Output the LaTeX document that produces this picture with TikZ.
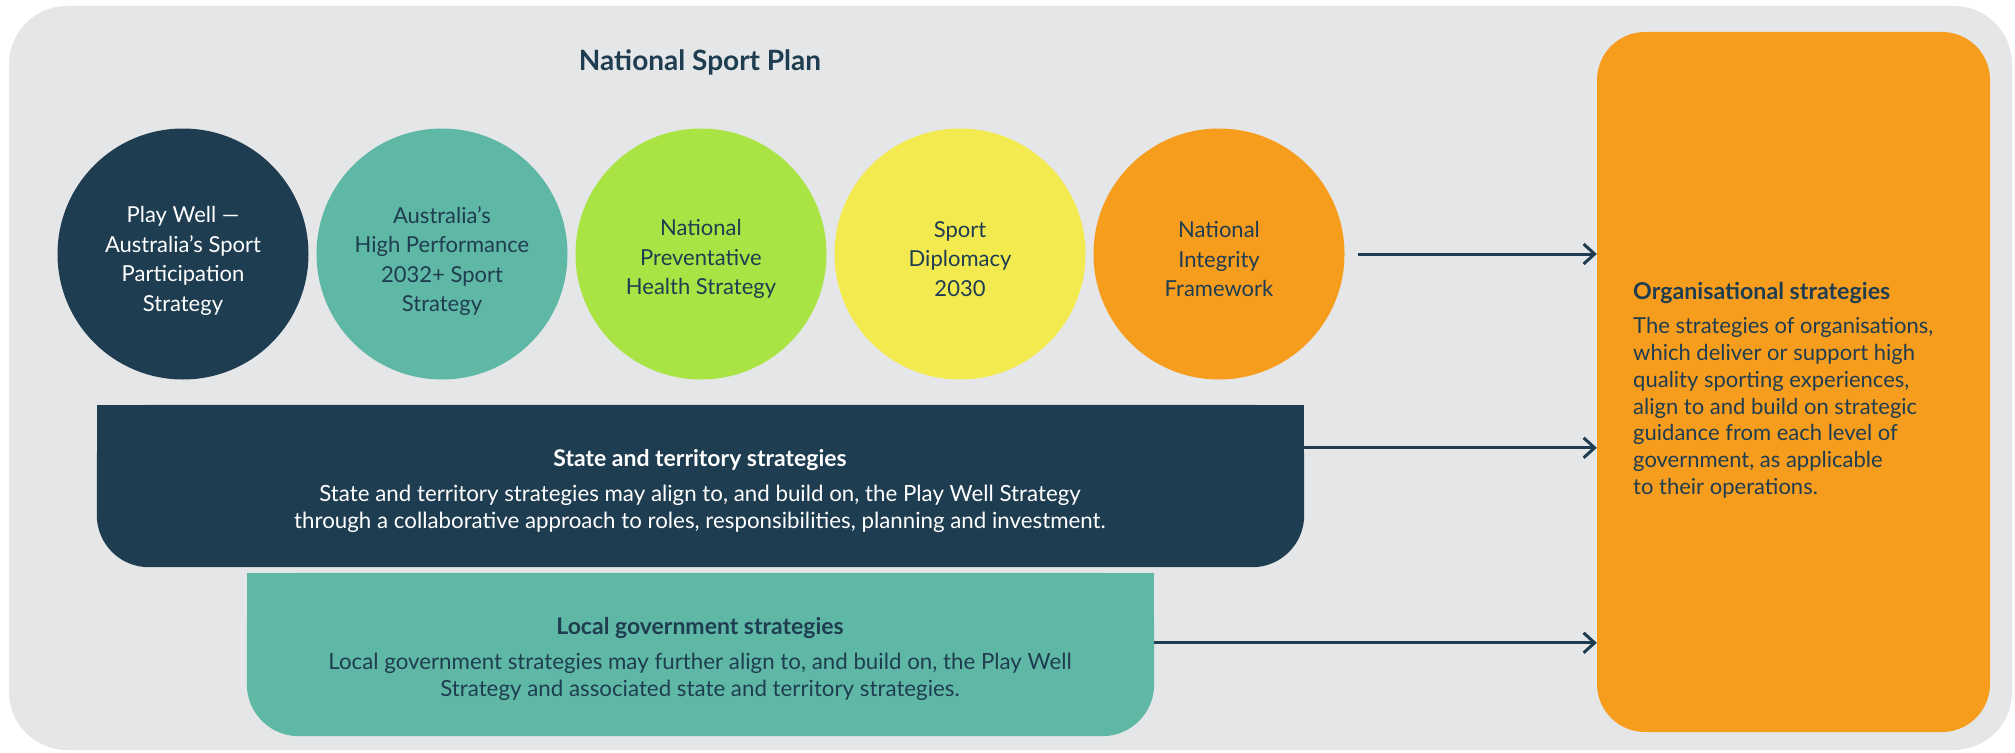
\documentclass[tikz,border=0pt]{standalone}
\usepackage{fontspec}
\setmainfont{Lato}
\usetikzlibrary{arrows.meta}
\definecolor{bggray}{HTML}{E5E6E8}
\definecolor{navy}{HTML}{1F3D50}
\definecolor{teal}{HTML}{5FB8A5}
\definecolor{lime}{HTML}{A9E444}
\definecolor{yel}{HTML}{F3EA50}
\definecolor{orng}{HTML}{F79D1E}
\tikzset{
  circ/.style={circle, minimum size=251pt, inner sep=0pt},
  ctext/.style={align=center, text=navy, font=\fontsize{22}{29.6}\selectfont},
  arr/.style={draw=navy, line width=3pt, -{Straight Barb[length=11pt,width=20pt]}},
  boxtitle/.style={font=\fontsize{23}{27}\selectfont\bfseries},
  boxbody/.style={align=center, font=\fontsize{22.3}{27}\selectfont},
}
\begin{document}
\begin{tikzpicture}[x=1pt, y=-1pt]
\useasboundingbox (0,0) rectangle (2015,752);
\fill[bggray, rounded corners=58pt] (9,6) rectangle (2012,750);

% title
\node[font=\fontsize{28}{32}\selectfont\bfseries, text=navy] (title) at (700,62) {National Sport Plan};

% circles
\node[circ, fill=navy] (c1) at (183,254) {};
\node[circ, fill=teal] (c2) at (442,254) {};
\node[circ, fill=lime] (c3) at (701,254) {};
\node[circ, fill=yel] (c4) at (960,254) {};
\node[circ, fill=orng] (c5) at (1219,254) {};
\node[ctext, text=white] (t1) at ([yshift=-7pt]c1.center) {Play Well —\\Australia’s Sport\\Participation\\Strategy};
\node[ctext] (t2) at ([yshift=-7pt]c2.center) {Australia’s\\High Performance\\2032+ Sport\\Strategy};
\node[ctext] (t3) at ([yshift=-5pt]c3.center) {National\\Preventative\\Health Strategy};
\node[ctext] (t4) at ([yshift=-5pt]c4.center) {Sport\\Diplomacy\\2030};
\node[ctext] (t5) at ([yshift=-5pt]c5.center) {National\\Integrity\\Framework};

% organisational box
\node[fill=orng, rounded corners=48pt, minimum width=393pt, minimum height=700pt, inner sep=0pt] (org) at (1793.5,382) {};
\node[anchor=north west, align=left, text=navy, font=\fontsize{22}{26.9}\selectfont, inner sep=0pt] (orgtext) at (1633,282)
  {{\fontsize{23.2}{26}\selectfont\bfseries Organisational strategies}\\[7pt]
   The strategies of organisations,\\
   which deliver or support high\\
   quality sporting experiences,\\
   align to and build on strategic\\
   guidance from each level of\\
   government, as applicable\\
   to their operations.};

% state box
\node[minimum width=1207pt, minimum height=162pt, inner sep=0pt] (stbox) at (700.5,486) {};
\fill[navy, rounded corners=52pt] (stbox.north west) rectangle (stbox.south east);
\fill[navy] (stbox.north west) rectangle ([yshift=-70pt]stbox.north east);
\node[boxtitle, text=white] (sttitle) at (700,460) {State and territory strategies};
\node[boxbody, text=white] (stbody) at (700,509) {State and territory strategies may align to, and build on, the Play Well Strategy\\through a collaborative approach to roles, responsibilities, planning and investment.};

% local box
\node[minimum width=907pt, minimum height=163pt, inner sep=0pt] (lcbox) at (700.5,654.5) {};
\fill[teal, rounded corners=52pt] (lcbox.north west) rectangle (lcbox.south east);
\fill[teal] (lcbox.north west) rectangle ([yshift=-70pt]lcbox.north east);
\node[boxtitle, text=navy] (lctitle) at (700,628) {Local government strategies};
\node[boxbody, text=navy] (lcbody) at (700,677) {Local government strategies may further align to, and build on, the Play Well\\Strategy and associated state and territory strategies.};

% arrows
\coordinate (a1s) at ([xshift=13pt]c5.east);
\draw[arr] (a1s) -- (a1s -| org.west);
\coordinate (a2s) at ([yshift=-43pt]stbox.north east);
\draw[arr] (a2s) -- (a2s -| org.west);
\coordinate (a3s) at ([yshift=-70pt]lcbox.north east);
\draw[arr] (a3s) -- (a3s -| org.west);
\end{tikzpicture}
\end{document}
